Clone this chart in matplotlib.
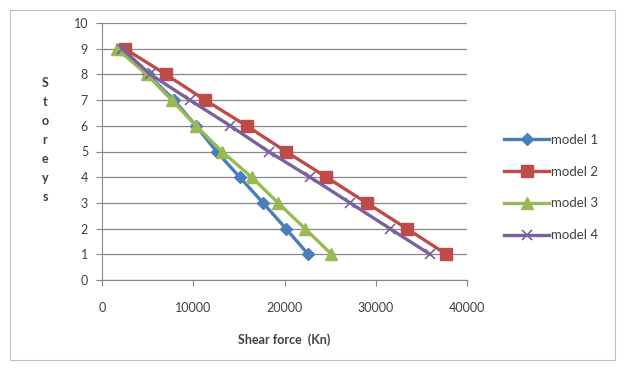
import matplotlib
matplotlib.use("Agg")
import matplotlib.pyplot as plt
from matplotlib.patches import Rectangle

plt.rcParams['font.family'] = ['Lato', 'DejaVu Sans']

storeys = [1, 2, 3, 4, 5, 6, 7, 8, 9]
model1 = [22600, 20150, 17650, 15100, 12550, 10300, 7900, 5000, 2100]
model2 = [37750, 33400, 29000, 24600, 20150, 15850, 11300, 7000, 2500]
model3 = [25150, 22250, 19300, 16400, 13150, 10300, 7650, 4900, 1650]
model4 = [35950, 31550, 27200, 22800, 18250, 14050, 9650, 5300, 2200]
labels = ['model 1', 'model 2', 'model 3', 'model 4']
xticks = [0, 10000, 20000, 30000, 40000]
yticks = list(range(0, 11))

fig = plt.figure(figsize=(6.26, 3.70), dpi=100)
fig.patches.append(Rectangle((10/626, 1 - 360/370), 605/626, 350/370,
                             transform=fig.transFigure, fill=False,
                             edgecolor='#BFBFBF', linewidth=0.8))
ax = fig.add_axes([102/626, 1 - 280/370, 365/626, 257/370])

styles = [
    dict(color='#4A7EBB', marker='D', markersize=6),
    dict(color='#BE4B48', marker='s', markersize=8),
    dict(color='#98B954', marker='^', markersize=8),
    dict(color='#7D60A0', marker='x', markersize=7, markeredgewidth=1.2),
]
for data, lab, st in zip([model1, model2, model3, model4], labels, styles):
    ax.plot(data, storeys, linewidth=2.4, label=lab, **st)

ax.set_xlim(0, 40000)
ax.set_ylim(0, 10)
ax.set_xticks(xticks)
ax.set_yticks(yticks)
ax.set_xticklabels(['0', '10000', '20000', '30000', '40000'], fontsize=9, color='#404040')
ax.set_yticklabels([str(v) for v in yticks], fontsize=9, color='#404040')
ax.grid(axis='y', color='#878787', linewidth=0.9)
ax.set_axisbelow(True)
for s in ['top', 'right']:
    ax.spines[s].set_visible(False)
for s in ['left', 'bottom']:
    ax.spines[s].set_color('#878787')
ax.tick_params(axis='both', direction='out', length=4, color='#878787', pad=6)
ax.tick_params(axis='x', pad=12)

ax.set_xlabel('Shear force  (Kn)', fontsize=9, fontweight='bold', color='#404040', labelpad=14)
fig.text(45/626, 1 - 140/370, 'S\nt\no\nr\ne\ny\ns', ha='center', va='center',
         fontsize=9, fontweight='bold', color='#404040', linespacing=1.7)

leg = ax.legend(loc='center left', bbox_to_anchor=(1.07, 0.36), frameon=False,
                fontsize=9.5, handlelength=3.4, labelspacing=1.5, handletextpad=0.1)
for t in leg.get_texts():
    t.set_color('#404040')

fig.savefig('out.png', dpi=100)
